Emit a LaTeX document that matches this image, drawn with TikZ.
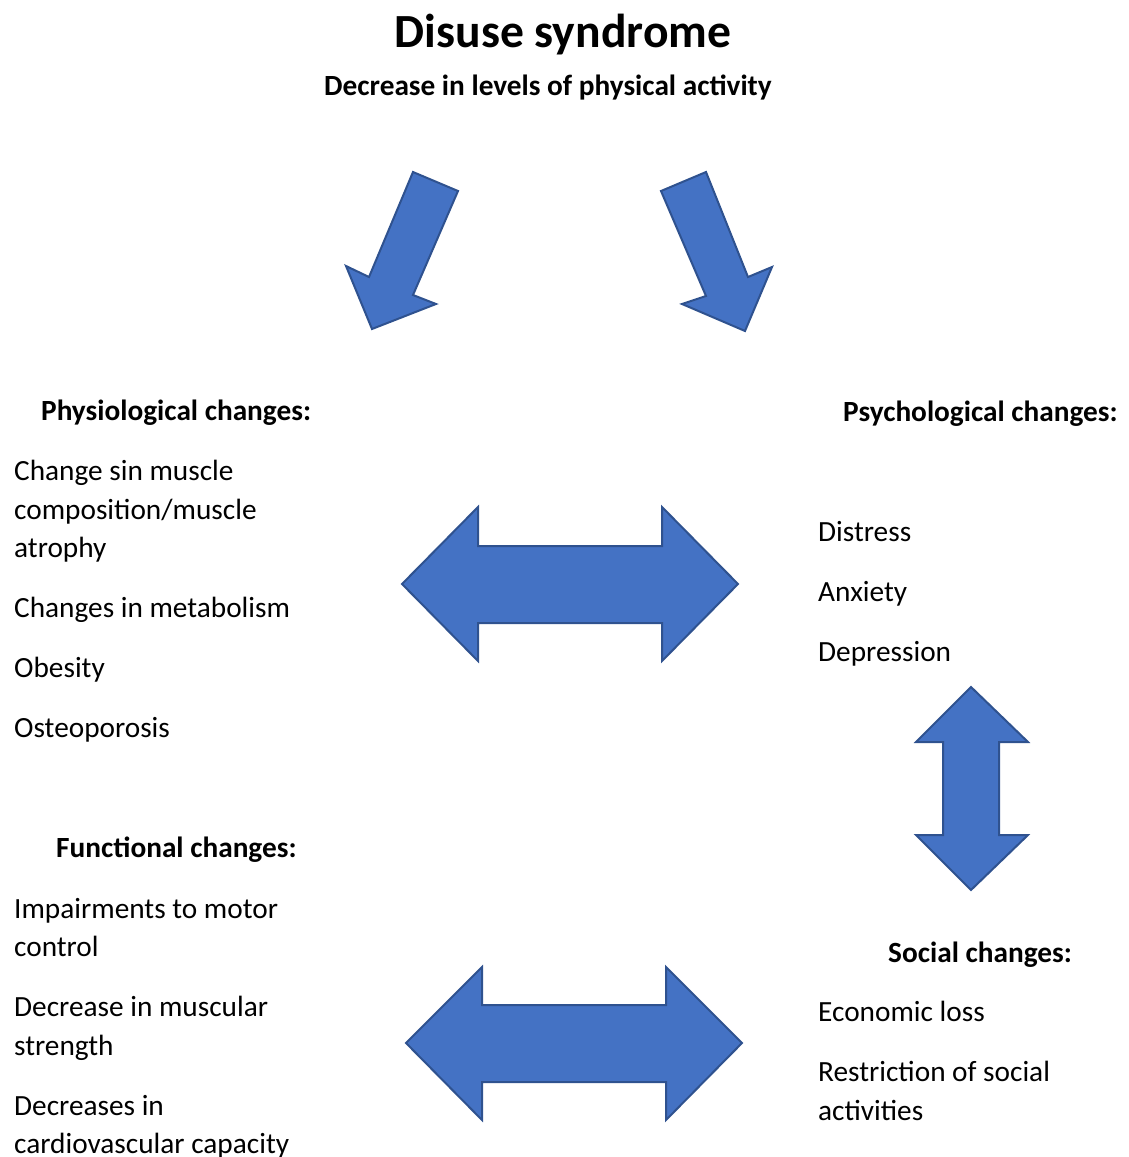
\documentclass[tikz,border=0pt]{standalone}
\usepackage{fontspec}
\setmainfont{Carlito}
\begin{document}
\begin{tikzpicture}[x=1pt,y=-1pt,
  body/.style={anchor=base west,inner sep=0pt,font=\fontsize{29.3}{38.6}\selectfont},
  head/.style={anchor=base west,inner sep=0pt,font=\fontsize{29.3}{38.6}\selectfont\bfseries},
  blockarrow/.style={fill=arrowfill,draw=arrowline,line width=2pt,line join=miter}]
\definecolor{arrowfill}{HTML}{4472C4}
\definecolor{arrowline}{HTML}{2F528F}
\useasboundingbox (0,0) rectangle (1128,1157);

% title block
\node[anchor=base,inner sep=0pt,font=\fontsize{47.6}{57}\selectfont\bfseries] (title) at (563,47) {Disuse syndrome};
\node[anchor=base,inner sep=0pt,font=\fontsize{29.3}{38.6}\selectfont\bfseries] (subtitle) at (548,95) {Decrease in levels of physical activity};

% slanted arrows from the top
\draw[blockarrow] (413,172) -- (458,191) -- (413,295) -- (436,304) -- (372,329) -- (346,266) -- (369,277) -- cycle;
\draw[blockarrow] (706,172) -- (661,191) -- (706,296) -- (682,304) -- (745,331) -- (772,267) -- (748,277) -- cycle;

% horizontal double arrows
\draw[blockarrow] (402,584) -- (478,507) -- (478,546) -- (662,546) -- (662,507) -- (738,584)
  -- (662,661) -- (662,623) -- (478,623) -- (478,661) -- cycle;
\draw[blockarrow] (406,1043) -- (482,967) -- (482,1005) -- (666,1005) -- (666,967) -- (742,1043)
  -- (666,1120) -- (666,1082) -- (482,1082) -- (482,1120) -- cycle;

% vertical double arrow
\draw[blockarrow] (971,687) -- (1028,742) -- (999,742) -- (999,835) -- (1028,835) -- (971,890)
  -- (916,835) -- (943,835) -- (943,742) -- (916,742) -- cycle;

% physiological changes
\node[head] (physh) at (41,420) {Physiological changes:};
\node[body] (phys1) at (14,480) {Change sin muscle};
\node[body] (phys2) at (14,519) {composition/muscle};
\node[body] (phys3) at (14,557) {atrophy};
\node[body] (phys4) at (14,617) {Changes in metabolism};
\node[body] (phys5) at (14,677) {Obesity};
\node[body] (phys6) at (14,737) {Osteoporosis};

% functional changes
\node[head] (funch) at (56,857) {Functional changes:};
\node[body] (func1) at (14,918) {Impairments to motor};
\node[body] (func2) at (14,956) {control};
\node[body] (func3) at (14,1016) {Decrease in muscular};
\node[body] (func4) at (14,1055) {strength};
\node[body] (func5) at (14,1115) {Decreases in};
\node[body] (func6) at (14,1153) {cardiovascular capacity};

% psychological changes
\node[head] (psyh) at (843,421) {Psychological changes:};
\node[body] (psy1) at (818,541) {Distress};
\node[body] (psy2) at (818,601) {Anxiety};
\node[body] (psy3) at (818,661) {Depression};

% social changes
\node[head] (soch) at (888,962) {Social changes:};
\node[body] (soc1) at (818,1021) {Economic loss};
\node[body] (soc2) at (818,1081) {Restriction of social};
\node[body] (soc3) at (818,1120) {activities};
\end{tikzpicture}
\end{document}
